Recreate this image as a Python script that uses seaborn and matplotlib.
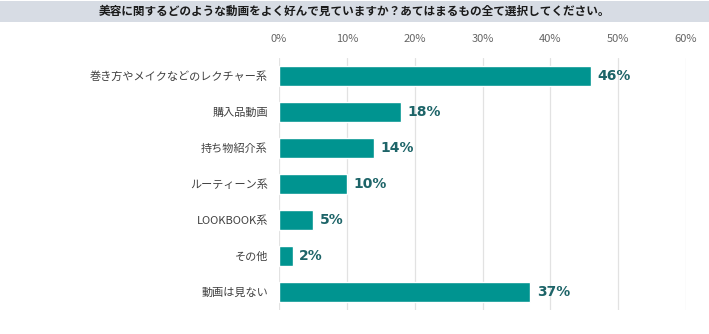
import matplotlib
matplotlib.use("Agg")
import matplotlib.pyplot as plt
import seaborn as sns
import pandas as pd
from matplotlib.patches import Rectangle

categories = ["巻き方やメイクなどのレクチャー系", "購入品動画", "持ち物紹介系", "ルーティーン系",
              "LOOKBOOK系", "その他", "動画は見ない"]
values = [46, 18, 14, 10, 5, 2, 37]
tick_values = [0, 10, 20, 30, 40, 50, 60]
tick_labels = ["0%", "10%", "20%", "30%", "40%", "50%", "60%"]
title = "美容に関するどのような動画をよく好んで見ていますか？あてはまるもの全て選択してください。"

sns.set_theme(style="white")
plt.rcParams['font.family'] = ['Noto Sans CJK JP', 'DejaVu Sans']

df = pd.DataFrame({"cat": categories, "val": values})

fig = plt.figure(figsize=(7.09, 3.34), dpi=100)
# title band
fig.patches.append(Rectangle((0, 1 - 22/334), 1, 21/334, transform=fig.transFigure,
                             facecolor="#d7dce4", edgecolor="none", zorder=0))
fig.text(0.5, 1 - 11.5/334, title, ha="center", va="center", fontsize=8.4,
         fontweight="bold", color="#1a1a1a")

ax = fig.add_axes([279/709, 1 - 310/334, (686 - 279)/709, 252/334])
sns.barplot(data=df, y="cat", x="val", color="#009490", saturation=1, width=0.58,
            orient="h", ax=ax, zorder=3)
ax.set_xlim(0, 60)
ax.set_ylim(6.5, -0.5)
ax.set_xticks(tick_values)
ax.set_xticklabels(tick_labels, fontsize=8, color="#666666")
ax.xaxis.tick_top()
ax.tick_params(axis="x", length=0, pad=10)
ax.tick_params(axis="y", length=0, pad=8, labelsize=8, labelcolor="#404040")
ax.set_xlabel("")
ax.set_ylabel("")
ax.grid(axis="x", color="#e2e2e2", linewidth=0.9, zorder=0)
for s in ax.spines.values():
    s.set_visible(False)
for i, v in enumerate(values):
    ax.text(v + 1.0, i, f"{v}%", va="center", ha="left", fontsize=10,
            fontweight="bold", color="#1d6468", family=['DejaVu Sans'])

fig.savefig("out.png", dpi=100)
